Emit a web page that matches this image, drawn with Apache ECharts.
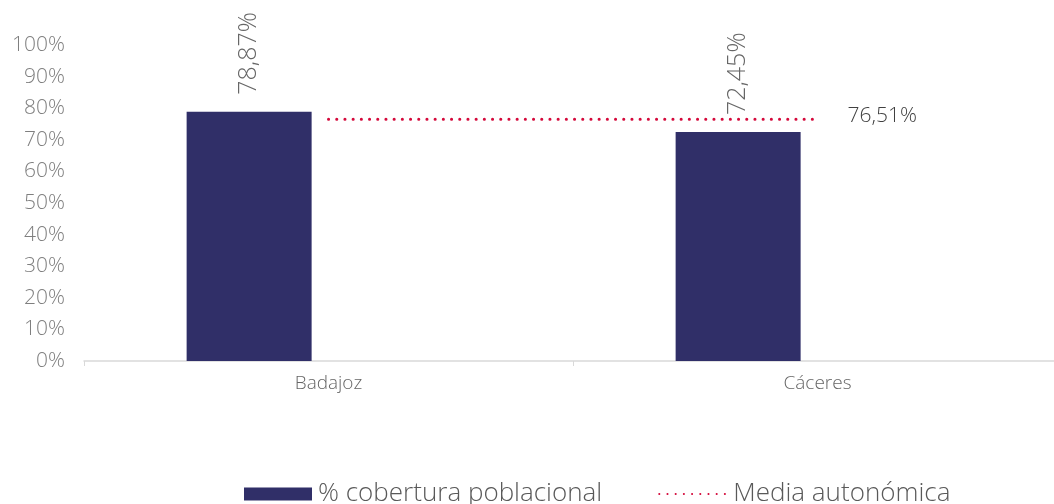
<!DOCTYPE html>
<html lang="es">
<head>
<meta charset="utf-8">
<title>Cobertura poblacional</title>
<script src="https://cdn.jsdelivr.net/npm/echarts@6/dist/echarts.min.js"></script>
<style>
  html, body { margin: 0; padding: 0; background: #fff; }
  #main { width: 1054px; height: 504px; }
</style>
</head>
<body>
<div id="main"></div>
<script>
// datos
const provincias = ['Badajoz', 'Cáceres'];
const cobertura = [78.87, 72.45];
const mediaAutonomica = [76.51, 76.51];
const yTicks = [0, 10, 20, 30, 40, 50, 60, 70, 80, 90, 100];

const fuente = '"Open Sans", Lato, sans-serif';
const fmt = v => v.toFixed(2).replace('.', ',') + '%';

const chart = echarts.init(document.getElementById('main'));

const option = {
  animation: false,
  textStyle: { fontFamily: fuente },
  grid: { left: 84, top: 45, width: 978, height: 316, outerBoundsMode: 'none' },
  legend: {
    top: 476,
    left: 239,
    itemWidth: 68,
    itemHeight: 13,
    itemGap: 56,
    textStyle: { fontSize: 26, color: '#595959', fontFamily: fuente, fontWeight: 300, padding: [0, 0, 0, 1] },
    data: [
      { name: '% cobertura poblacional', icon: 'rect' },
      { name: 'Media autonómica', itemStyle: { opacity: 0 } }
    ]
  },
  xAxis: {
    type: 'category',
    data: provincias,
    axisLine: { lineStyle: { color: '#d9d9d9', width: 1.5 } },
    axisTick: { show: true, length: 5, lineStyle: { color: '#d9d9d9' } },
    axisLabel: { fontSize: 19, color: '#666666', margin: 13, fontWeight: 300 }
  },
  yAxis: {
    type: 'value',
    min: yTicks[0],
    max: yTicks[yTicks.length - 1],
    interval: 10,
    axisLine: { show: false },
    axisTick: { show: false },
    splitLine: { show: false },
    axisLabel: {
      formatter: '{value}%',
      fontSize: 21,
      color: '#7f7f7f',
      margin: 19,
      fontWeight: 300
    }
  },
  series: [
    {
      name: '% cobertura poblacional',
      type: 'bar',
      data: cobertura,
      barWidth: 125,
      barGap: '27%',
      itemStyle: { color: '#302f68' },
      label: {
        show: true,
        position: 'top',
        rotate: 90,
        align: 'left',
        verticalAlign: 'middle',
        distance: 17,
        fontSize: 25,
        color: '#666666',
        fontWeight: 300,
        formatter: p => fmt(p.value)
      }
    },
    {
      // hueco vacío del grupo de barras
      name: 'hueco',
      type: 'bar',
      data: [null, null],
      barWidth: 125,
      silent: true
    },
    {
      name: 'Media autonómica',
      type: 'line',
      data: mediaAutonomica,
      symbol: 'none',
      lineStyle: { color: '#d4083a', width: 3, type: [0.1, 8.1], cap: 'round' },
      itemStyle: { color: '#d4083a' },
      endLabel: {
        show: true,
        distance: 30,
        fontSize: 21,
        color: '#404040',
        fontWeight: 300,
        offset: [0, -3],
        formatter: p => fmt(p.value)
      },
      z: 5
    }
  ]
};

chart.setOption(option);
</script>
</body>
</html>
